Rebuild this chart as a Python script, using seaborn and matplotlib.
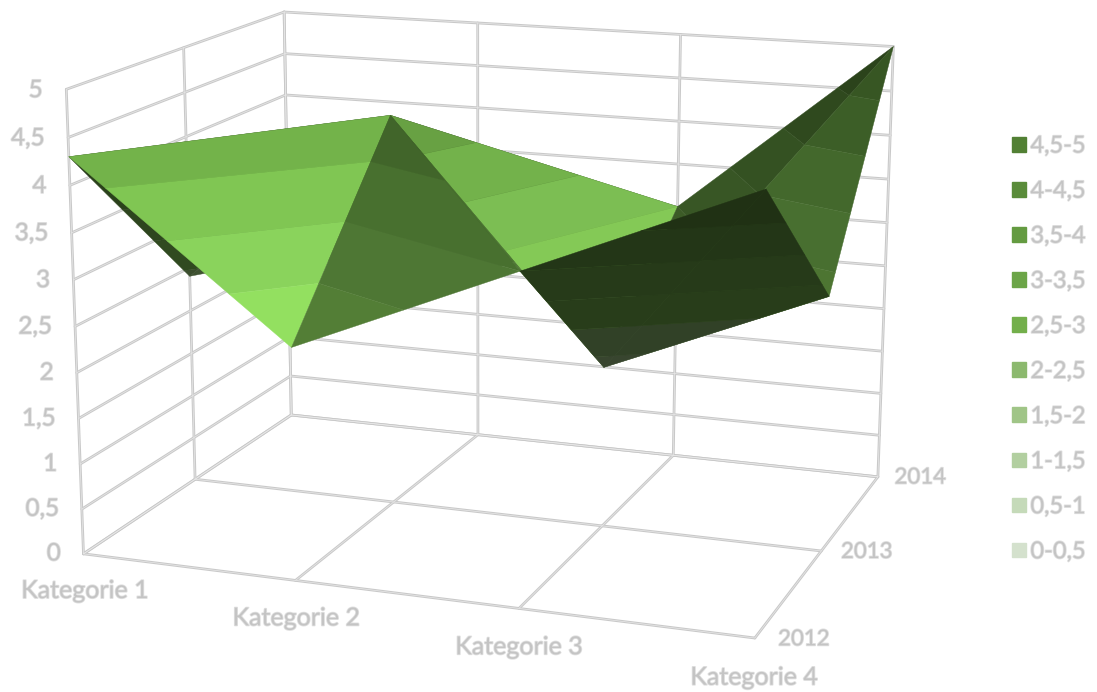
import numpy as np
import matplotlib
matplotlib.use("Agg")
import matplotlib.pyplot as plt
import matplotlib.patheffects as pe
from matplotlib.patches import Patch
from mpl_toolkits.mplot3d.art3d import Poly3DCollection, Line3DCollection
import seaborn as sns

# ---------- data ----------
categories = ["Kategorie 1", "Kategorie 2", "Kategorie 3", "Kategorie 4"]
years = ["2012", "2013", "2014"]
values_2012 = [4.3, 2.5, 3.5, 4.5]
values_2013 = [2.4, 4.4, 1.8, 2.8]
values_2014 = [2.0, 2.0, 3.0, 5.0]
z_ticks = [0, 0.5, 1, 1.5, 2, 2.5, 3, 3.5, 4, 4.5, 5]
z_tick_labels = ["0", "0,5", "1", "1,5", "2", "2,5", "3", "3,5", "4", "4,5", "5"]
band_labels = ["0-0,5", "0,5-1", "1-1,5", "1,5-2", "2-2,5", "2,5-3", "3-3,5", "3,5-4", "4-4,5", "4,5-5"]
band_colors = ["#D4E1CD", "#C5DAB9", "#B2CFA0", "#A0C587", "#8CB96E", "#73AF4B",
               "#6CA548", "#649B41", "#5A8C3A", "#528034"]

# mesh: (cat, year) vertices of each facet, back to front, with its light gain
facets = [
    (((0, 1), (1, 1), (0, 2)), 0.45),
    (((1, 1), (1, 2), (0, 2)), 0.45),
    (((1, 1), (2, 2), (1, 2)), 0.45),
    (((1, 1), (2, 1), (2, 2)), 1.15),
    (((2, 1), (3, 2), (2, 2)), 0.52),
    (((2, 1), (3, 1), (3, 2)), 0.67),
    (((0, 0), (1, 1), (0, 1)), 0.42),
    (((0, 0), (1, 0), (1, 1)), 1.28),
    (((2, 0), (2, 1), (1, 1)), 0.72),
    (((1, 0), (2, 0), (1, 1)), 0.72),
    (((2, 0), (3, 0), (2, 1)), 0.35),
    (((3, 0), (3, 1), (2, 1)), 0.35),
]

# frame anchors of the chart box in the picture: (x, y, z) -> pixel
frame_world = [(0, 0, 0), (3, 0, 0), (0, 2, 0), (3, 2, 0), (0, 0, 5), (0, 2, 5), (3, 2, 5),
               (0, 1, 5), (0, 1, 0), (1, 0, 0), (1, 2, 0), (2, 2, 5)]
frame_pixel = [(83, 554), (755, 638), (292, 415), (878, 477), (66, 89), (284, 11), (893, 46),
               (184, 49), (195, 479), (296, 580), (477, 435), (681, 35)]

W, H = 1097, 692
GRID = "#C9C9C9"
TEXT = "#C4C4C4"

sns.set_theme(style="white")
plt.rcParams["font.family"] = ["Lato", "DejaVu Sans"]


def fit_camera(world, pixel):
    rows, rhs = [], []
    for (x, y, z), (u, v) in zip(world, pixel):
        rows.append([x, y, z, 1, 0, 0, 0, 0, -u * x, -u * y, -u * z])
        rows.append([0, 0, 0, 0, x, y, z, 1, -v * x, -v * y, -v * z])
        rhs += [u, v]
    p = np.linalg.lstsq(np.array(rows, float), np.array(rhs, float), rcond=None)[0]
    return np.append(p, 1.0).reshape(3, 4)


def clip_band(poly, lo, hi):
    def clip(pts, level, keep_above):
        out = []
        for a, b in zip(pts, pts[1:] + pts[:1]):
            ina = a[2] >= level if keep_above else a[2] <= level
            inb = b[2] >= level if keep_above else b[2] <= level
            if ina:
                out.append(a)
            if ina != inb:
                t = (level - a[2]) / (b[2] - a[2])
                out.append(tuple(a[k] + t * (b[k] - a[k]) for k in range(3)))
        return out
    pts = clip(list(poly), lo, True)
    return clip(pts, hi, False) if pts else []


fig = plt.figure(figsize=(W / 100, H / 100), dpi=100, facecolor="white")
ax = fig.add_axes([0, 0, 1, 1], projection="3d")
ax.set_axis_off()
ax.computed_zorder = False
ax.set_xlim(0, 3)
ax.set_ylim(0, 2)
ax.set_zlim(0, 5)

P = fit_camera(frame_world, frame_pixel)
flip = np.array([[1, 0, 0], [0, -1, H], [0, 0, 1]], float)


def get_proj():
    Q = ax.transData.inverted().get_matrix() @ flip @ P
    return np.vstack([Q[0], Q[1], [0, 1, 0, 0], Q[2]])


ax.get_proj = get_proj


def to_pixel(x, y, z):
    u, v, w = P @ np.array([x, y, z, 1.0])
    return u / w, v / w


nx, ny = len(categories) - 1, len(years) - 1
ztop = z_ticks[-1]
segments = []
for z in z_ticks:
    segments.append([(0, 0, z), (0, ny, z)])
    segments.append([(0, ny, z), (nx, ny, z)])
for j in range(ny + 1):
    segments.append([(0, j, 0), (0, j, ztop)])
    segments.append([(0, j, 0), (nx, j, 0)])
for i in range(nx + 1):
    segments.append([(i, ny, 0), (i, ny, ztop)])
    segments.append([(i, 0, 0), (i, ny, 0)])
for lw, col, zo in ((2.0, GRID, 1), (0.5, "#E8E8E8", 2)):
    lc = Line3DCollection(segments, colors=col, linewidths=lw, zorder=zo, capstyle="round")
    ax.add_collection3d(lc, autolim=False)
    lc.set_clip_on(False)

heights = np.array([values_2012, values_2013, values_2014])
for n, (tri, gain) in enumerate(facets):
    poly = [(i, j, heights[j, i]) for i, j in tri]
    verts, cols = [], []
    for b, col in enumerate(band_colors):
        part = clip_band(poly, z_ticks[b], z_ticks[b + 1])
        if len(part) >= 3:
            verts.append(part)
            cols.append(tuple(np.clip(np.array(matplotlib.colors.to_rgb(col)) * gain, 0, 1)))
    pc = Poly3DCollection(verts, facecolors=cols, edgecolors=cols, linewidths=0.3, zorder=5 + n)
    ax.add_collection3d(pc, autolim=False)
    pc.set_clip_on(False)

glow = [pe.withStroke(linewidth=1.2, foreground="#E0E0E0")]


def label(x, y, z, s, size, ha="center"):
    u, v = to_pixel(x, y, z)
    fig.text(u / W, 1 - (v + 3) / H, s, ha=ha, va="center", fontsize=size, color=TEXT, path_effects=glow)


for z, lab in zip(z_ticks, z_tick_labels):
    label(-0.11, 0, z, lab, 17.5, ha="right")
for i, lab in enumerate(categories):
    label(i, 0, -0.38, lab, 18)
for j, lab in enumerate(years):
    label(nx + 0.2, j, 0.08, lab, 16)

handles = [Patch(facecolor=c, edgecolor=c, label=l) for c, l in zip(band_colors, band_labels)][::-1]
leg = ax.legend(handles=handles, loc="center left", bbox_to_anchor=(1012 / W, 1 - 349 / H),
                bbox_transform=fig.transFigure, frameon=False, fontsize=17, labelcolor=TEXT,
                handlelength=0.58, handleheight=0.58, handletextpad=0.2, labelspacing=1.02,
                borderpad=0, borderaxespad=0)
for t in leg.get_texts():
    t.set_path_effects(glow)

fig.savefig("out.png", dpi=100, facecolor="white")
